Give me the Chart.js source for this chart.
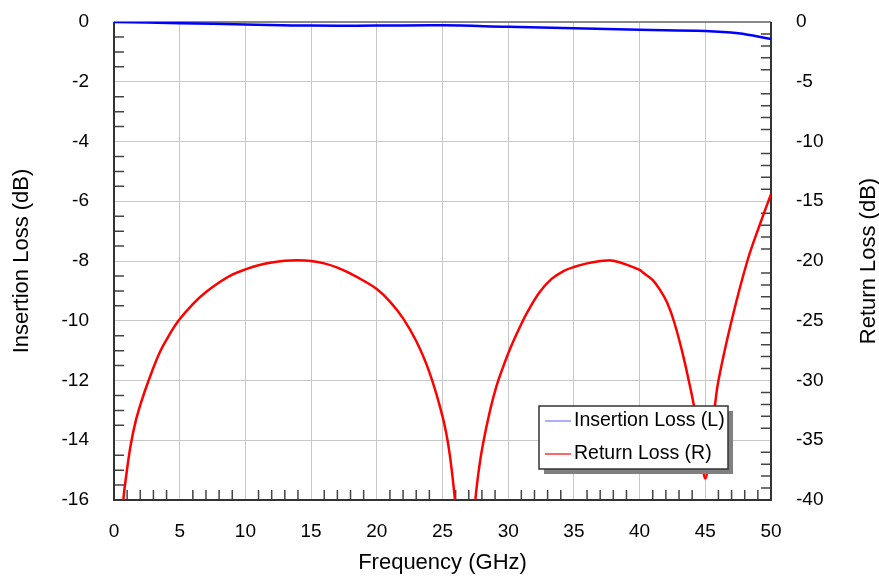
<!DOCTYPE html>
<html>
<head>
<meta charset="utf-8">
<script src="https://cdn.jsdelivr.net/npm/chart.js@4.4.1/dist/chart.umd.min.js"></script>
<style>
  html, body { margin: 0; padding: 0; background: #fff; }
  #wrap { width: 879px; height: 577px; }
</style>
</head>
<body>
<div id="wrap"><canvas id="chart" width="879" height="577"></canvas></div>
<script>
// tick labels
const xTicks = [0, 5, 10, 15, 20, 25, 30, 35, 40, 45, 50];
const ilTicks = [0, -2, -4, -6, -8, -10, -12, -14, -16];
const rlTicks = [0, -5, -10, -15, -20, -25, -30, -35, -40];

// insertion loss, left axis (dB)
const ilFreq = [0, 5, 10, 15, 20, 25, 30, 35, 40, 45, 47.5, 50];
const ilValues = [0, -0.04, -0.08, -0.12, -0.12, -0.11, -0.16, -0.21, -0.26, -0.3, -0.38, -0.57];

// return loss, right axis (dB) - points below -40 fall outside the plot and get clipped
const rlFreq = [0.4, 0.71, 0.95, 1.27, 1.65, 2.1, 2.6, 3.5, 4.2, 4.9, 6, 7, 8, 9, 10, 11, 12, 13, 14, 15, 16, 17, 18, 19, 20,
  21, 22, 23, 24, 25, 25.5, 25.95, 26.4,
  27.1, 27.5, 27.8, 28.1, 28.6, 29.1, 29.6, 30.2, 30.9, 31.5, 32.4, 33.3, 34.2, 35, 36, 37, 37.5, 38, 39, 40, 40.3, 41,
  41.6, 42.1, 42.6, 43.2, 43.7, 44.1, 44.6, 45,
  45.4, 45.7, 46, 47, 48.2, 49.2, 50];
const rlValues = [-45, -40, -37.8, -35.4, -33.4, -31.7, -30.1, -27.6, -26.2, -25, -23.6, -22.6, -21.8, -21.15, -20.7, -20.35, -20.12, -19.98, -19.94, -20, -20.2, -20.55, -21.05, -21.65, -22.35,
  -23.4, -24.8, -26.7, -29.3, -33, -35.8, -40, -46,
  -46, -40, -37.2, -35.2, -32.6, -30.5, -28.9, -27.2, -25.5, -24.2, -22.6, -21.5, -20.85, -20.5, -20.2, -20, -19.95, -19.98, -20.3, -20.75, -21, -21.6,
  -22.5, -23.5, -25, -27.4, -29.8, -31.9, -35, -38.2,
  -35, -32.4, -30, -25, -20, -16.8, -14.4];

const seriesNames = ["Insertion Loss (L)", "Return Loss (R)"];

const FONT = "'Liberation Sans', Arial, sans-serif";
Chart.defaults.font.family = FONT;
Chart.defaults.color = "#000";

const toPoints = (xs, ys) => xs.map((x, i) => ({ x, y: ys[i] }));

// inside minor ticks, chart frame, right title and boxed legend
const decorations = {
  id: "decorations",
  beforeDatasetsDraw(chart) {
    const { ctx, chartArea: a, scales } = chart;
    ctx.save();
    ctx.strokeStyle = "#444";
    ctx.lineWidth = 1.5;
    ctx.beginPath();
    for (let v = 1; v < 50; v++) {
      if (v % 5 === 0) continue;
      const px = scales.x.getPixelForValue(v);
      ctx.moveTo(px, a.bottom);
      ctx.lineTo(px, a.bottom - 10);
    }
    for (let v = -0.5; v > -16; v -= 0.5) {
      if (v % 2 === 0) continue;
      const py = scales.y.getPixelForValue(v);
      ctx.moveTo(a.left, py);
      ctx.lineTo(a.left + 10, py);
    }
    for (let v = -1; v > -40; v--) {
      if (v % 5 === 0) continue;
      const py = scales.y2.getPixelForValue(v);
      ctx.moveTo(a.right, py);
      ctx.lineTo(a.right - 10, py);
    }
    ctx.stroke();

    // frame
    ctx.lineWidth = 2;
    ctx.strokeStyle = "#888";
    ctx.beginPath();
    ctx.moveTo(a.left, a.top);
    ctx.lineTo(a.right, a.top);
    ctx.stroke();
    ctx.strokeStyle = "#333";
    ctx.beginPath();
    ctx.moveTo(a.left, a.top);
    ctx.lineTo(a.left, a.bottom);
    ctx.lineTo(a.right, a.bottom);
    ctx.lineTo(a.right, a.top);
    ctx.stroke();
    ctx.restore();
  },
  afterDraw(chart) {
    const { ctx, chartArea: a } = chart;
    ctx.save();
    // right axis title, reading bottom to top
    ctx.translate(869, (a.top + a.bottom) / 2);
    ctx.rotate(-Math.PI / 2);
    ctx.font = "22px " + FONT;
    ctx.fillStyle = "#000";
    ctx.textAlign = "center";
    ctx.textBaseline = "middle";
    ctx.fillText("Return Loss (dB)", 0, 0);
    ctx.restore();

    // legend box
    const bx = 539, by = 406, bw = 189, bh = 63;
    ctx.save();
    ctx.fillStyle = "#808080";
    ctx.fillRect(bx + 5, by + 5, bw, bh);
    ctx.fillStyle = "#fff";
    ctx.fillRect(bx, by, bw, bh);
    ctx.strokeStyle = "#333";
    ctx.lineWidth = 1.5;
    ctx.strokeRect(bx, by, bw, bh);
    const colors = ["#7878ff", "#ff0000"];
    ctx.font = "19.5px " + FONT;
    ctx.textBaseline = "middle";
    ctx.fillStyle = "#000";
    seriesNames.forEach((name, i) => {
      const ly = by + 15 + i * 33;
      ctx.strokeStyle = colors[i];
      ctx.lineWidth = 1.2;
      ctx.beginPath();
      ctx.moveTo(bx + 6, ly);
      ctx.lineTo(bx + 32, ly);
      ctx.stroke();
      ctx.fillText(name, bx + 35, ly);
    });
    ctx.restore();
  },
};

new Chart(document.getElementById("chart"), {
  type: "line",
  data: {
    datasets: [
      {
        label: seriesNames[0],
        data: toPoints(ilFreq, ilValues),
        yAxisID: "y",
        borderColor: "#0000ff",
        borderWidth: 2.5,
        pointRadius: 0,
        tension: 0.4,
      },
      {
        label: seriesNames[1],
        data: toPoints(rlFreq, rlValues),
        yAxisID: "y2",
        borderColor: "#ff0000",
        borderWidth: 2.5,
        pointRadius: 0,
        tension: 0.4,
      },
    ],
  },
  options: {
    responsive: false,
    animation: false,
    layout: { padding: { top: 22, left: 0, right: 0, bottom: 0 } },
    plugins: { legend: { display: false }, tooltip: { enabled: false } },
    scales: {
      x: {
        type: "linear",
        min: 0,
        max: 50,
        afterBuildTicks: (s) => { s.ticks = xTicks.map((value) => ({ value })); },
        afterFit: (s) => { s.height = 77; s.paddingLeft = 0; s.paddingRight = 0; },
        ticks: { font: { size: 19 }, padding: 20, color: "#000" },
        grid: { color: "#c8c8c8", lineWidth: 1, drawTicks: false },
        border: { display: false },
        title: { display: true, text: "Frequency (GHz)", font: { size: 22 }, padding: { top: 0, bottom: 1 } },
      },
      y: {
        position: "left",
        min: -16,
        max: 0,
        afterBuildTicks: (s) => { s.ticks = ilTicks.map((value) => ({ value })); },
        afterFit: (s) => { s.width = 114; s.paddingTop = 0; s.paddingBottom = 0; },
        ticks: { font: { size: 19 }, padding: 25, color: "#000" },
        grid: { color: "#c8c8c8", lineWidth: 1, drawTicks: false },
        border: { display: false },
        title: { display: true, text: "Insertion Loss (dB)", font: { size: 22 }, padding: { top: 9, bottom: 0 } },
      },
      y2: {
        position: "right",
        min: -40,
        max: 0,
        afterBuildTicks: (s) => { s.ticks = rlTicks.map((value) => ({ value })); },
        afterFit: (s) => { s.width = 108; s.paddingTop = 0; s.paddingBottom = 0; },
        ticks: { font: { size: 19 }, padding: 25, color: "#000" },
        grid: { display: false, drawTicks: false },
        border: { display: false },
      },
    },
  },
  plugins: [decorations],
});
</script>
</body>
</html>
